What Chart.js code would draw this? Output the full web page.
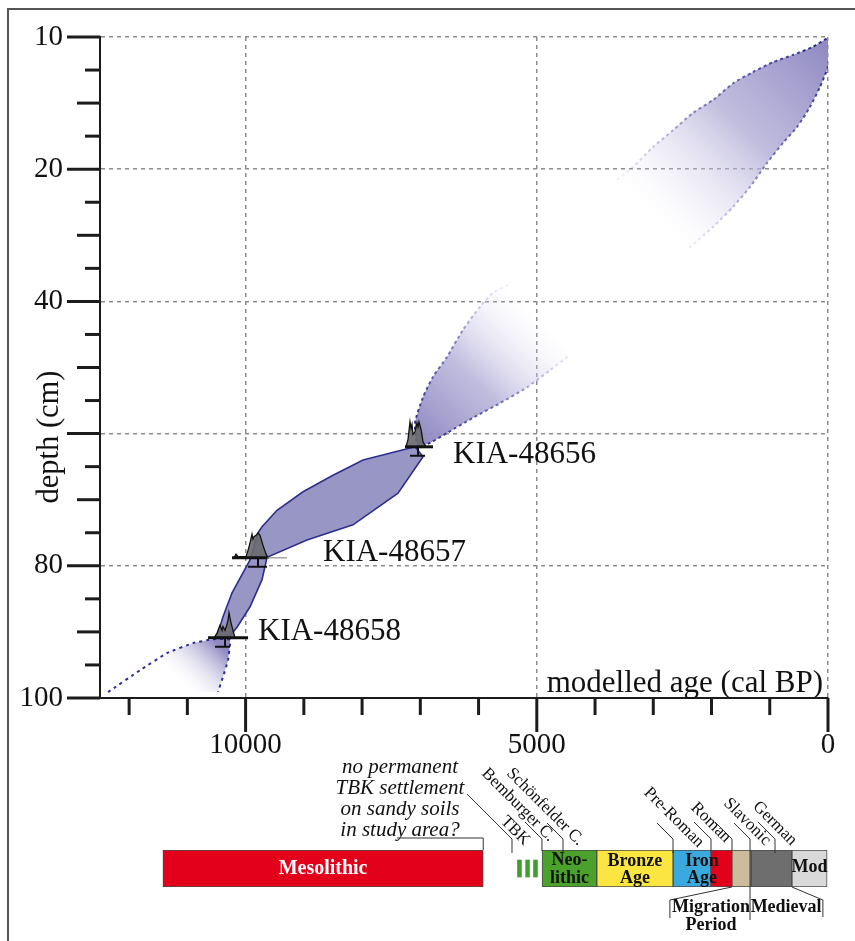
<!DOCTYPE html>
<html>
<head>
<meta charset="utf-8">
<title>Age-depth model</title>
<script src="https://cdn.jsdelivr.net/npm/chart.js@4.4.1/dist/chart.umd.min.js"></script>
<style>
  html, body { margin: 0; padding: 0; background: #ffffff; }
  #wrap { position: relative; width: 855px; height: 941px; overflow: hidden; }
  #wrap canvas { position: absolute; left: 0; top: 0; }
</style>
</head>
<body>
<div id="wrap">
  <canvas id="ageDepth" width="855" height="941"></canvas>
  <canvas id="periods" width="855" height="941"></canvas>
</div>
<script>
// ================= DATA =================
const ageMin = 0;
const ageMax = 12500;
const depthMin = 0;
const depthMax = 100;

const xTickValues = [0, 5000, 10000];
const xTickLabels = ['0', '5000', '10000'];
const yTickValues = [0, 20, 40, 60, 80, 100];
const yTickLabels = ['10', '20', '40', '', '80', '100'];

// upper extrapolated envelope (open end fades out)
const topEnvAge   = [3620, 3350, 3000, 2660, 2320, 1970, 1630, 1290, 940, 600, 260, -30, -30, -20, 0, 140, 310, 530, 770, 1050, 1340, 1630, 1970, 2420];
const topEnvDepth = [21.6, 19.7, 16.6, 14.1, 11.5, 9.5, 7.0, 5.3, 3.8, 2.7, 1.5, 0.0, 1.0, 2.8, 4.5, 7.6, 10.6, 13.6, 16.0, 19.1, 22.7, 25.7, 28.7, 32.2];
const topEnvApex = 11;

// envelope above KIA-48656 (open end fades out)
const midEnvAge   = [5494, 5752, 5975, 6267, 6542, 6782, 6954, 7091, 7040, 6834, 6542, 6095, 5632, 5168, 4773, 4430];
const midEnvDepth = [37.5, 38.7, 40.8, 44.3, 48.4, 51.4, 54.5, 58.4, 61.9, 61.4, 59.9, 57.6, 55.4, 53.0, 50.4, 48.1];
const midEnvApex = 8;

// modelled envelope between the dated samples (closed)
const coreEnvAge   = [7090, 7984, 8499, 9014, 9461, 9718, 9787, 9924, 10233, 10388, 10474, 10508, 10268, 10147, 9924, 9718, 9632, 8946, 8156, 7383, 6954, 7090];
const coreEnvDepth = [62.0, 64.0, 66.3, 68.8, 71.6, 74.1, 75.0, 79.1, 84.1, 87.7, 90.2, 90.9, 90.6, 89.3, 86.2, 82.1, 78.7, 76.1, 73.8, 69.0, 63.5, 62.0];

// envelope below KIA-48658 (extrapolated)
const botEnvAge   = [12362, 11813, 11349, 10903, 10560, 10268, 10302, 10388, 10474];
const botEnvDepth = [99.1, 95.8, 93.2, 91.7, 91.1, 91.2, 94.3, 96.8, 99.1];
const botEnvApex = 4;

// radiocarbon samples
const sampleNames      = ['KIA-48656', 'KIA-48657', 'KIA-48658'];
const sampleDepth      = [62.0, 78.8, 90.9];
const sampleLineFrom   = [7263, 10233, 10645];
const sampleLineTo     = [6782, 9632, 9958];
const sampleExtTo      = [null, 9289, null];
const sampleErrFrom    = [7177, 9958, 10525];
const sampleErrTo      = [6919, 9632, 10268];
const sampleErrMid     = [7040, 9787, 10353];
const sampleLabelAge   = [6439, 8671, 9787];
const sampleLabelDepth = [63.2, 78.1, 90.0];

// calibrated probability shapes (age, relative density)
const pdfAge = [
  [7246, 7211, 7177, 7160, 7143, 7126, 7091, 7057, 7040, 7023, 6988, 6954, 6902],
  [10199, 10165, 10130, 9993, 9958, 9924, 9890, 9873, 9856, 9821, 9787, 9753, 9701, 9649, 9615],
  [10540, 10489, 10439, 10405, 10388, 10353, 10319, 10302, 10285, 10268, 10251, 10216, 10182]
];
const pdfDens = [
  [0, 0.3, 1.0, 0.75, 0.9, 0.5, 0.6, 0.95, 0.8, 1.0, 0.7, 0.2, 0],
  [0, 0.15, 0.05, 0.05, 0.3, 0.6, 0.95, 0.75, 0.85, 0.9, 1.0, 0.9, 0.5, 0.15, 0],
  [0, 0.2, 0.5, 0.3, 0.45, 0.3, 0.55, 0.7, 1.0, 0.8, 0.6, 0.3, 0]
];

// cultural periods (cal BP)
const periodNames = ['Mesolithic', 'Neolithic', 'Bronze Age', 'Iron Age', 'Roman', 'Migration Period', 'Medieval', 'Modern'];
const periodFrom  = [11420, 4910, 3970, 2660, 2010, 1650, 1320, 620];
const periodTo    = [5920, 3970, 2660, 2010, 1650, 1320, 620, 15];
const tbkFrom = [5340, 5200, 5065];
const tbkTo   = [5255, 5115, 4980];

// culture labels with leader lines (age where the leader meets the bar)
const cultureNames = ['TBK', 'Bemburger C.', 'Schönfelder C.', 'Pre-Roman', 'Roman', 'Slavonic', 'German'];
const cultureAge   = [5426, 4911, 4550, 2661, 2009, 1339, 910];
const romanEndAge  = 1648;

// ================= STYLE =================
const FONT = "'Liberation Serif','Times New Roman',Times,serif";
const periodColors = ['#e2001a', '#4aa12c', '#fbe641', '#3aa9dd', '#e2001a', '#ccbc9b', '#6e6e6e', '#d9d9d9'];
const tbkColor = '#3f9e2c';
const cultureLayout = [
  { dx: 12, ty: 846, diag: 45, vEnd: 853 },
  { dx: 7,  ty: 842, diag: 17, vEnd: 851 },
  { dx: 15, ty: 846, diag: 16, vEnd: 853 },
  { dx: 25, ty: 848, diag: 16, vEnd: 853 },
  { dx: 14, ty: 843, diag: 17, vEnd: 851 },
  { dx: 15, ty: 846, diag: 16, vEnd: 920 },
  { dx: 16, ty: 846, diag: 17, vEnd: 853 }
];

function xy(ages, depths) { return ages.map((a, i) => ({ x: a, y: depths[i] })); }

function envGradient(ages, depths, apex, stops) {
  return function (context) {
    const chart = context.chart;
    if (!chart.chartArea || !chart.scales.x) return stops[0][1];
    const xs = chart.scales.x, ys = chart.scales.y;
    const n = ages.length - 1;
    const x0 = xs.getPixelForValue(ages[apex]), y0 = ys.getPixelForValue(depths[apex]);
    const x1 = (xs.getPixelForValue(ages[0]) + xs.getPixelForValue(ages[n])) / 2;
    const y1 = (ys.getPixelForValue(depths[0]) + ys.getPixelForValue(depths[n])) / 2;
    const g = chart.ctx.createLinearGradient(x0, y0, x1, y1);
    stops.forEach(s => g.addColorStop(s[0], s[1]));
    return g;
  };
}

const fadeFill = [[0, 'rgba(138,132,190,0.98)'], [0.5, 'rgba(172,167,212,0.75)'], [1, 'rgba(230,228,245,0)']];
const fadeLine = [[0, 'rgba(35,35,140,1)'], [0.6, 'rgba(90,85,170,0.7)'], [1, 'rgba(160,155,210,0.15)']];

// ================= MAIN CHART =================
const mainDeco = {
  id: 'mainDeco',
  beforeDraw(chart) {
    const ctx = chart.ctx;
    ctx.save();
    ctx.fillStyle = '#ffffff';
    ctx.fillRect(0, 0, chart.width, chart.height);
    ctx.strokeStyle = '#555555';
    ctx.lineWidth = 2;
    ctx.beginPath();
    ctx.moveTo(8, chart.height);
    ctx.lineTo(8, 9);
    ctx.lineTo(chart.width, 9);
    ctx.stroke();
    ctx.restore();
  },
  afterDatasetsDraw(chart) {
    const ctx = chart.ctx, xs = chart.scales.x, ys = chart.scales.y;
    ctx.save();
    sampleNames.forEach((name, i) => {
      const y0 = ys.getPixelForValue(sampleDepth[i]);
      ctx.beginPath();
      ctx.moveTo(xs.getPixelForValue(pdfAge[i][0]), y0);
      pdfAge[i].forEach((a, k) => ctx.lineTo(xs.getPixelForValue(a), y0 - pdfDens[i][k] * 25));
      ctx.closePath();
      ctx.fillStyle = 'rgba(105,105,110,0.9)';
      ctx.fill();
      ctx.strokeStyle = '#111';
      ctx.lineWidth = 1.3;
      ctx.stroke();
      if (sampleExtTo[i] !== null) {
        ctx.beginPath();
        ctx.strokeStyle = '#777';
        ctx.lineWidth = 1;
        ctx.moveTo(xs.getPixelForValue(sampleLineTo[i]), y0);
        ctx.lineTo(xs.getPixelForValue(sampleExtTo[i]), y0);
        ctx.stroke();
      }
      ctx.beginPath();
      ctx.strokeStyle = '#111';
      ctx.lineWidth = 3;
      ctx.moveTo(xs.getPixelForValue(sampleLineFrom[i]), y0);
      ctx.lineTo(xs.getPixelForValue(sampleLineTo[i]), y0);
      ctx.stroke();
      ctx.lineWidth = 2;
      ctx.beginPath();
      ctx.moveTo(xs.getPixelForValue(sampleErrFrom[i]), y0 + 9);
      ctx.lineTo(xs.getPixelForValue(sampleErrTo[i]), y0 + 9);
      ctx.moveTo(xs.getPixelForValue(sampleErrMid[i]), y0);
      ctx.lineTo(xs.getPixelForValue(sampleErrMid[i]), y0 + 9);
      ctx.stroke();
      ctx.fillStyle = '#111';
      ctx.font = '31px ' + FONT;
      ctx.textAlign = 'left';
      ctx.textBaseline = 'middle';
      ctx.fillText(name, xs.getPixelForValue(sampleLabelAge[i]), ys.getPixelForValue(sampleLabelDepth[i]));
    });
    ctx.restore();
  },
  afterDraw(chart) {
    const ctx = chart.ctx, xs = chart.scales.x, ys = chart.scales.y, ca = chart.chartArea;
    ctx.save();
    ctx.strokeStyle = '#1c1c1c';
    ctx.lineWidth = 3;
    for (let v = depthMin; v <= depthMax; v += 5) {
      const len = v % 20 === 0 ? 33 : (v % 10 === 0 ? 23 : 15);
      const py = ys.getPixelForValue(v);
      ctx.beginPath();
      ctx.moveTo(ca.left - len, py);
      ctx.lineTo(ca.left, py);
      ctx.stroke();
    }
    for (let v = ageMin; v <= 12000; v += 1000) {
      const len = v % 5000 === 0 ? 34 : 17;
      const px = xs.getPixelForValue(v);
      ctx.beginPath();
      ctx.moveTo(px, ca.bottom);
      ctx.lineTo(px, ca.bottom + len);
      ctx.stroke();
    }
    ctx.fillStyle = '#111';
    ctx.font = '31px ' + FONT;
    ctx.textAlign = 'right';
    ctx.textBaseline = 'alphabetic';
    ctx.fillText('modelled age (cal BP)', ca.right - 5, ca.bottom - 6);
    ctx.translate(58, 437);
    ctx.rotate(-Math.PI / 2);
    ctx.textAlign = 'center';
    ctx.font = '30.5px ' + FONT;
    ctx.fillText('depth (cm)', 0, 0);
    ctx.restore();
  }
};

new Chart(document.getElementById('ageDepth'), {
  type: 'line',
  data: {
    datasets: [
      {
        label: 'KIA-48656 to KIA-48658',
        data: xy(coreEnvAge, coreEnvDepth),
        borderColor: '#2e2e8e',
        borderWidth: 1.6,
        backgroundColor: '#9896c4',
        fill: 'shape',
        tension: 0
      },
      {
        label: 'upper extrapolation',
        data: xy(topEnvAge, topEnvDepth),
        borderColor: envGradient(topEnvAge, topEnvDepth, topEnvApex, fadeLine),
        backgroundColor: envGradient(topEnvAge, topEnvDepth, topEnvApex, fadeFill),
        borderWidth: 2,
        borderDash: [3, 3],
        fill: 'shape',
        tension: 0.2
      },
      {
        label: 'above KIA-48656',
        data: xy(midEnvAge, midEnvDepth),
        borderColor: envGradient(midEnvAge, midEnvDepth, midEnvApex, fadeLine),
        backgroundColor: envGradient(midEnvAge, midEnvDepth, midEnvApex, fadeFill),
        borderWidth: 2,
        borderDash: [3, 3],
        fill: 'shape',
        tension: 0.2
      },
      {
        label: 'below KIA-48658',
        data: xy(botEnvAge, botEnvDepth),
        borderColor: '#2b2b9a',
        backgroundColor: envGradient(botEnvAge, botEnvDepth, botEnvApex,
          [[0, 'rgba(138,132,190,0.95)'], [0.75, 'rgba(240,240,250,0)'], [1, 'rgba(255,255,255,0)']]),
        borderWidth: 2,
        borderDash: [3, 4],
        fill: 'shape',
        tension: 0.1
      }
    ]
  },
  options: {
    responsive: false,
    animation: false,
    devicePixelRatio: 1,
    layout: { padding: { left: 0, right: 27, top: 37, bottom: 0 } },
    elements: { point: { radius: 0, hoverRadius: 0 } },
    plugins: { legend: { display: false }, tooltip: { enabled: false } },
    scales: {
      x: {
        type: 'linear',
        reverse: true,
        min: ageMin,
        max: ageMax,
        afterFit(scale) { scale.height = 243; scale.paddingLeft = 0; scale.paddingRight = 0; },
        afterBuildTicks(scale) { scale.ticks = xTickValues.map(v => ({ value: v })); },
        grid: {
          drawTicks: false,
          lineWidth: 1.5,
          color: '#8c8c8c'
        },
        border: { display: true, color: '#1c1c1c', width: 2, dash: [4, 4] },
        ticks: {
          autoSkip: false,
          maxRotation: 0,
          padding: 30,
          color: '#111',
          font: { family: FONT, size: 29 },
          callback: v => { const i = xTickValues.indexOf(v); return i >= 0 ? xTickLabels[i] : ''; }
        }
      },
      y: {
        type: 'linear',
        reverse: true,
        min: depthMin,
        max: depthMax,
        afterFit(scale) { scale.width = 100; scale.paddingTop = 0; scale.paddingBottom = 0; },
        afterBuildTicks(scale) { scale.ticks = yTickValues.map(v => ({ value: v })); },
        grid: {
          drawTicks: false,
          lineWidth: 1.5,
          color: c => (c.tick && c.tick.value !== depthMax) ? '#8c8c8c' : 'rgba(0,0,0,0)'
        },
        border: { display: true, color: '#1c1c1c', width: 2, dash: [4, 4] },
        ticks: {
          autoSkip: false,
          padding: 37,
          color: '#111',
          font: { family: FONT, size: 29 },
          callback: v => { const i = yTickValues.indexOf(v); return i >= 0 ? yTickLabels[i] : ''; }
        }
      }
    }
  },
  plugins: [mainDeco]
});

// ================= PERIOD BAR CHART =================
const periodDeco = {
  id: 'periodDeco',
  afterDatasetsDraw(chart) {
    const ctx = chart.ctx, xs = chart.scales.x, ca = chart.chartArea;
    const X = a => xs.getPixelForValue(a);
    const mid = i => (X(periodFrom[i]) + X(periodTo[i])) / 2;
    ctx.save();
    ctx.textAlign = 'center';
    ctx.textBaseline = 'middle';

    ctx.fillStyle = '#ffffff';
    ctx.font = 'bold 20px ' + FONT;
    ctx.fillText(periodNames[0], mid(0), 869);
    ctx.fillStyle = '#111';
    ctx.font = 'bold 18px ' + FONT;
    ctx.fillText('Neo-', mid(1), 860);
    ctx.fillText('lithic', mid(1), 878);
    ctx.fillText('Bronze', mid(2), 861);
    ctx.fillText('Age', mid(2), 878);
    ctx.fillText('Iron', mid(3) + 10, 861);
    ctx.fillText('Age', mid(3) + 10, 878);
    ctx.fillText('Mod', mid(7), 867);

    const migX = X(periodFrom[4]);
    ctx.fillText('Migration', migX, 907);
    ctx.fillText('Period', migX, 925);
    ctx.fillText('Medieval', (X(periodFrom[6]) + X(periodTo[7])) / 2 - 3, 907);

    ctx.strokeStyle = '#333';
    ctx.lineWidth = 1;
    ctx.beginPath();
    ctx.moveTo(X(periodFrom[5]), ca.bottom);
    ctx.lineTo(X(periodFrom[5]) - 62, ca.bottom + 13);
    ctx.lineTo(X(periodFrom[5]) - 62, ca.bottom + 31);
    ctx.moveTo(X(periodTo[6]), ca.bottom);
    ctx.lineTo(X(periodTo[6]) + 31, ca.bottom + 13);
    ctx.lineTo(X(periodTo[6]) + 31, ca.bottom + 30);
    ctx.stroke();

    ctx.font = 'italic 21px ' + FONT;
    ctx.textBaseline = 'alphabetic';
    const noteX = X(7349);
    ['no permanent', 'TBK settlement', 'on sandy soils', 'in study area?'].forEach((t, k) => {
      ctx.fillText(t, noteX, 773 + k * 21);
    });
    ctx.beginPath();
    ctx.moveTo(X(7400), 838);
    ctx.lineTo(X(periodTo[0]), 838);
    ctx.lineTo(X(periodTo[0]), ca.top);
    ctx.stroke();

    const vTop = 839;
    const drawLeader = (x, lay) => {
      ctx.beginPath();
      ctx.moveTo(x - lay.diag, vTop - lay.diag);
      ctx.lineTo(x, vTop);
      ctx.lineTo(x, lay.vEnd);
      ctx.stroke();
    };
    cultureNames.forEach((name, i) => {
      const lay = cultureLayout[i];
      const x = X(cultureAge[i]);
      drawLeader(x, lay);
      ctx.save();
      ctx.translate(x + lay.dx, lay.ty);
      ctx.rotate(Math.PI / 4);
      ctx.font = '17px ' + FONT;
      ctx.textAlign = 'right';
      ctx.textBaseline = 'alphabetic';
      ctx.fillStyle = '#111';
      ctx.fillText(name, 0, 0);
      ctx.restore();
    });
    drawLeader(X(romanEndAge), { diag: 17, vEnd: 851 });
    ctx.restore();
  }
};

const periodDatasets = periodNames.map((n, i) => ({
  label: n,
  data: [[periodFrom[i], periodTo[i]]],
  backgroundColor: periodColors[i],
  borderColor: '#4a4a4a',
  borderWidth: 1,
  borderSkipped: false,
  barPercentage: 1,
  categoryPercentage: 1,
  grouped: false
}));
tbkFrom.forEach((f, i) => periodDatasets.push({
  label: 'TBK ' + (i + 1),
  data: [[f, tbkTo[i]]],
  backgroundColor: tbkColor,
  borderColor: '#2f6f22',
  borderWidth: 0.5,
  borderSkipped: false,
  barPercentage: 0.49,
  categoryPercentage: 1,
  grouped: false
}));

new Chart(document.getElementById('periods'), {
  type: 'bar',
  data: { labels: ['periods'], datasets: periodDatasets },
  options: {
    indexAxis: 'y',
    responsive: false,
    animation: false,
    devicePixelRatio: 1,
    layout: { padding: { left: 100, right: 27, top: 850, bottom: 54 } },
    plugins: { legend: { display: false }, tooltip: { enabled: false } },
    scales: {
      x: { type: 'linear', reverse: true, min: ageMin, max: ageMax, display: false },
      y: { type: 'category', display: false }
    }
  },
  plugins: [periodDeco]
});
</script>
</body>
</html>
